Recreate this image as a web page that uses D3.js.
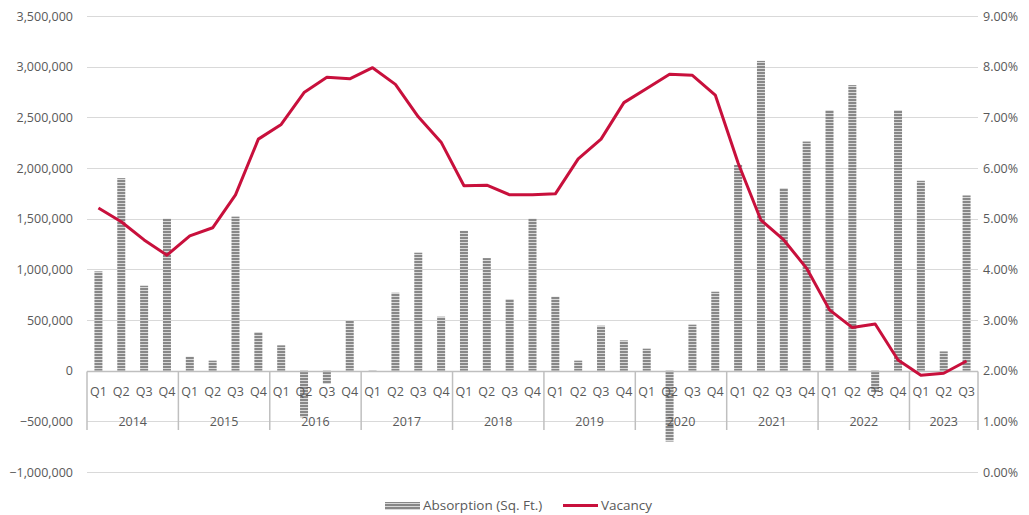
<!DOCTYPE html>
<html>
<head>
<meta charset="utf-8">
<script src="https://cdn.jsdelivr.net/npm/d3@7"></script>
<style>
	body { margin: 0; background: #fff; }
	svg text { font-family: "Open Sans", "Noto Sans", sans-serif; fill: #595959; }
</style>
</head>
<body>
<svg id="chart" width="1029" height="515"></svg>
<script>
const years = ['2014', '2015', '2016', '2017', '2018', '2019', '2020', '2021', '2022', '2023'];
const quarters = ['Q1', 'Q2', 'Q3', 'Q4'];
// absorption in sq. ft., 2014 Q1 .. 2023 Q3
const absorption = [
	980000, 1900000, 838000, 1500000,
	138000, 99000, 1520000, 381000,
	250000, -460000, -131000, 496000,
	-8000, 769000, 1164000, 533000,
	1380000, 1111000, 707000, 1500000,
	730000, 99000, 444000, 299000,
	217000, -700000, 454000, 779000,
	2031000, 3057000, 1802000, 2261000,
	2571000, 2818000, -210000, 2571000,
	1874000, 190000, 1729000
];
// vacancy rate (%)
const vacancy = [
	5.21, 4.94, 4.58, 4.28,
	4.66, 4.82, 5.47, 6.57,
	6.86, 7.49, 7.79, 7.76,
	7.98, 7.65, 7.01, 6.51,
	5.65, 5.66, 5.47, 5.47,
	5.49, 6.18, 6.57, 7.29,
	7.57, 7.85, 7.83, 7.44,
	6.10, 4.97, 4.58, 4.02,
	3.20, 2.85, 2.92, 2.21,
	1.91, 1.95, 2.19
];
const leftTicks = [-1000000, -500000, 0, 500000, 1000000, 1500000, 2000000, 2500000, 3000000, 3500000];
const rightTicks = [0, 1, 2, 3, 4, 5, 6, 7, 8, 9];

const red = '#c8103c';
const svg = d3.select('#chart');
const plotLeft = 87, plotRight = 978, plotTop = 16, plotBottom = 472;

const cats = absorption.map((d, i) => i);
const x = d3.scaleBand().domain(cats).range([plotLeft, plotRight]).paddingInner(0.65).paddingOuter(0.325);
const yL = d3.scaleLinear().domain([-1000000, 3500000]).range([plotBottom, plotTop]);
const yR = d3.scaleLinear().domain([0, 9]).range([plotBottom, plotTop]);

// stripe pattern for bars
const pat = svg.append('defs').append('pattern')
	.attr('id', 'stripes')
	.attr('patternUnits', 'userSpaceOnUse')
	.attr('width', 4).attr('height', 3);
pat.append('rect').attr('width', 4).attr('height', 3).attr('fill', '#d9d9d9');
pat.append('rect').attr('width', 4).attr('height', 2).attr('fill', '#888');

// gridlines
svg.append('g')
	.selectAll('line')
	.data(leftTicks)
	.join('line')
	.attr('x1', plotLeft).attr('x2', plotRight)
	.attr('y1', d => Math.round(yL(d)) + 0.5)
	.attr('y2', d => Math.round(yL(d)) + 0.5)
	.attr('stroke', '#d9d9d9');

// left axis
const fmt = d3.format(',');
const yAxisL = d3.axisLeft(yL).tickValues(leftTicks).tickFormat(fmt).tickSize(0).tickPadding(14);
svg.append('g')
	.attr('transform', `translate(${plotLeft}, 0)`)
	.call(yAxisL)
	.call(g => g.select('.domain').remove())
	.selectAll('text').attr('font-size', 12.5).style('fill', '#595959');

// right axis
const yAxisR = d3.axisRight(yR).tickValues(rightTicks).tickFormat(d => d.toFixed(2) + '%').tickSize(0).tickPadding(5);
svg.append('g')
	.attr('transform', `translate(${plotRight}, 0)`)
	.call(yAxisR)
	.call(g => g.select('.domain').remove())
	.selectAll('text').attr('font-size', 12.5).style('fill', '#595959');

// bars
svg.append('g')
	.selectAll('rect')
	.data(absorption)
	.join('rect')
	.attr('x', (d, i) => x(i))
	.attr('width', x.bandwidth())
	.attr('y', d => yL(Math.max(0, d)))
	.attr('height', d => Math.abs(yL(d) - yL(0)))
	.attr('fill', 'url(#stripes)');

// category axis
const y0 = Math.round(yL(0)) + 0.5;
const axisG = svg.append('g');
axisG.append('line')
	.attr('x1', plotLeft).attr('x2', plotRight)
	.attr('y1', y0).attr('y2', y0)
	.attr('stroke', '#bfbfbf').attr('stroke-width', 1.5);

const step = x.step();
const yearEdges = d3.range(0, years.length + 1).map(i => Math.min(i * 4, absorption.length));
axisG.selectAll('.sep')
	.data(yearEdges)
	.join('line')
	.attr('class', 'sep')
	.attr('x1', i => plotLeft + i * step).attr('x2', i => plotLeft + i * step)
	.attr('y1', y0).attr('y2', 430)
	.attr('stroke', '#bfbfbf').attr('stroke-width', 1.5);

axisG.selectAll('.q')
	.data(absorption)
	.join('text')
	.attr('class', 'q')
	.attr('x', (d, i) => x(i) + x.bandwidth() / 2)
	.attr('y', 396)
	.attr('text-anchor', 'middle')
	.attr('font-size', 12.5)
	.text((d, i) => quarters[i % 4]);

axisG.selectAll('.yr')
	.data(years)
	.join('text')
	.attr('class', 'yr')
	.attr('x', (d, i) => plotLeft + (yearEdges[i] + yearEdges[i + 1]) / 2 * step)
	.attr('y', 426)
	.attr('text-anchor', 'middle')
	.attr('font-size', 12.5)
	.text(d => d);

// vacancy line
svg.append('path')
	.datum(vacancy)
	.attr('fill', 'none')
	.attr('stroke', red)
	.attr('stroke-width', 3)
	.attr('stroke-linejoin', 'round')
	.attr('d', d3.line()
		.x((d, i) => x(i) + x.bandwidth() / 2)
		.y(d => yR(d)));

// legend
const leg = svg.append('g');
leg.append('rect').attr('x', 385).attr('y', 502).attr('width', 35).attr('height', 8).attr('fill', 'url(#stripes)');
leg.append('text').attr('x', 423).attr('y', 510).attr('font-size', 13.5).text('Absorption (Sq. Ft.)');
leg.append('line').attr('x1', 563).attr('x2', 598).attr('y1', 505.5).attr('y2', 505.5).attr('stroke', red).attr('stroke-width', 3);
leg.append('text').attr('x', 601).attr('y', 510).attr('font-size', 13.5).text('Vacancy');
</script>
</body>
</html>
